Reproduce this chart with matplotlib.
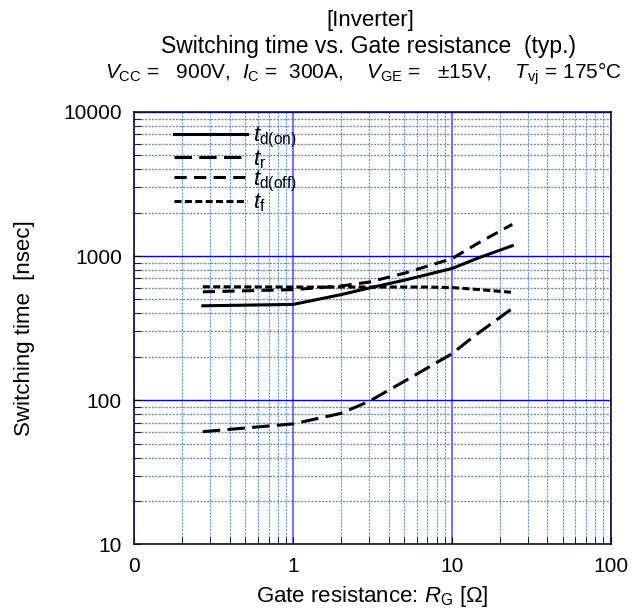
import matplotlib
matplotlib.use("Agg")
import matplotlib.pyplot as plt
from matplotlib.ticker import FixedLocator, LogLocator, NullFormatter

plt.rcParams['font.family'] = ['Liberation Sans', 'DejaVu Sans']
plt.rcParams['mathtext.fontset'] = 'custom'
plt.rcParams['mathtext.rm'] = 'Liberation Sans'
plt.rcParams['mathtext.it'] = 'Liberation Sans:italic'

# values
rg_on = [0.27, 1.0, 2.0, 3.0, 5.0, 10.0, 15.0, 24.0]
td_on = [452, 462, 540, 600, 680, 820, 980, 1180]

rg_r = [0.27, 1.0, 2.0, 3.0, 5.0, 10.0, 13.6, 24.0]
t_r = [60.5, 68.5, 81, 98, 135, 210, 275, 433]

rg_off = [0.27, 1.0, 2.0, 3.0, 5.0, 10.0, 15.0, 24.0]
td_off = [565, 585, 620, 660, 760, 960, 1250, 1660]

rg_f = [0.27, 1.0, 3.0, 7.0, 10.0, 15.0, 24.0]
t_f = [613, 610, 610, 610, 605, 585, 560]

xticks = [0.1, 1, 10, 100]
xticklabels = ['0', '1', '10', '100']
yticks = [10, 100, 1000, 10000]
yticklabels = ['10', '100', '1000', '10000']

fig = plt.figure(figsize=(6.36, 6.12), dpi=100)
ax = fig.add_axes([0.2112, 0.1106, 0.749, 0.7064])

ax.set_xscale('log')
ax.set_yscale('log')
ax.set_xlim(0.1, 100)
ax.set_ylim(10, 10000)

#grid lines
ax.xaxis.set_major_locator(FixedLocator(xticks))
ax.xaxis.set_minor_locator(LogLocator(base=10, subs=range(2, 10)))
ax.yaxis.set_major_locator(FixedLocator(yticks))
ax.yaxis.set_minor_locator(LogLocator(base=10, subs=range(2, 10)))
ax.xaxis.set_minor_formatter(NullFormatter())
ax.yaxis.set_minor_formatter(NullFormatter())
ax.set_xticklabels(xticklabels)
ax.set_yticklabels(yticklabels)

ax.grid(which='minor', axis='x', color='#5B9BD5', linestyle=(0, (2, 1)), linewidth=0.8)
ax.grid(which='minor', axis='y', color='#7788A8', linestyle=(0, (1.5, 1)), linewidth=1.0)
ax.grid(which='major', axis='x', color='#7070FF', linewidth=1.4)
ax.grid(which='major', axis='y', color='#0000FF', linewidth=1.0)
ax.set_axisbelow(True)

ax.tick_params(which='both', direction='in', top=False, right=False,
               labelsize=15, pad=9)
ax.tick_params(which='major', length=5)
ax.tick_params(which='minor', length=5)
for s in ax.spines.values():
    s.set_linewidth(1.2)
    s.set_color('#101030')

#curves
ax.plot(rg_on, td_on, color='black', lw=2.2, linestyle='-', label=r'$\mathit{t}_{\mathrm{d(on)}}$')
ax.plot(rg_r, t_r, color='black', lw=2.2, linestyle=(0, (5.7, 2.4)), label=r'$\mathit{t}_{\mathrm{r}}$')
ax.plot(rg_off, td_off, color='black', lw=2.2, linestyle=(0, (4, 2.4)), label=r'$\mathit{t}_{\mathrm{d(off)}}$')
ax.plot(rg_f, t_f, color='black', lw=2.2, linestyle=(0, (2.3, 1.1)), label=r'$\mathit{t}_{\mathrm{f}}$')

ax.legend(loc='upper left', bbox_to_anchor=(0.055, 1.0), frameon=False,
          fontsize=16, handlelength=3.3, handletextpad=0.25, labelspacing=-0.1,
          borderaxespad=0.2)

ax.set_xlabel(r'Gate resistance: $\mathit{R}_{\mathrm{G}}$ [$\Omega$]', fontsize=16, labelpad=6)
ax.set_ylabel('Switching time  [nsec]', fontsize=16, labelpad=20)

fig.text(0.583, 0.966, '[Inverter]', ha='center', va='center', fontsize=16)
fig.text(0.58, 0.924, 'Switching time vs. Gate resistance  (typ.)', ha='center', va='center', fontsize=16.5)
fig.text(0.572, 0.880,
         r'$\mathit{V}_{\mathrm{CC}}$ =   900V,  $\mathit{I}_{\mathrm{C}}$ =  300A,    '
         r'$\mathit{V}_{\mathrm{GE}}$ =   ±15V,    $\mathit{T}_{\mathrm{vj}}$ = 175°C',
         ha='center', va='center', fontsize=15)

fig.savefig('out.png', dpi=100)
